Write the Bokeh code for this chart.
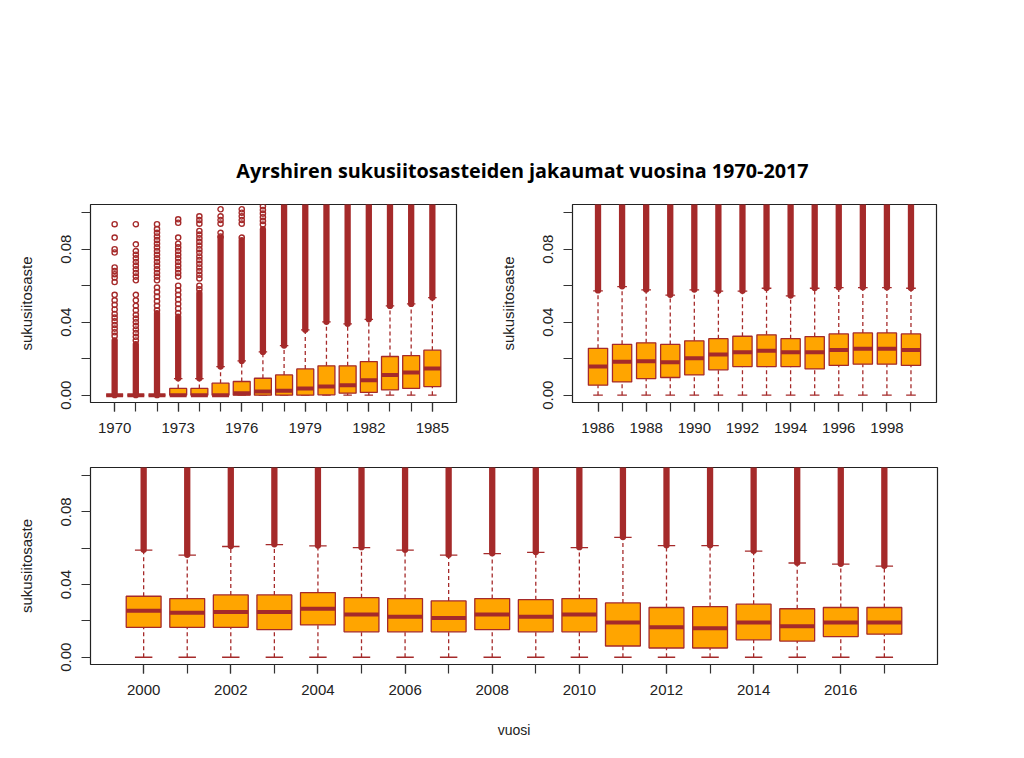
from bokeh.plotting import figure
from bokeh.models import Range1d, FixedTicker, Div, NumeralTickFormatter
from bokeh.layouts import column, row
from bokeh.embed import file_html
from bokeh.resources import INLINE

TITLE = "Ayrshiren sukusiitosasteiden jakaumat vuosina 1970-2017"
Y_LABEL = "sukusiitosaste"
X_LABEL = "vuosi"

# ---- panel 1: 1970-1985 ----
years1 = [1970, 1971, 1972, 1973, 1974, 1975, 1976, 1977, 1978, 1979, 1980, 1981, 1982, 1983, 1984, 1985]
q1_1 = [0.0, 0.0, 0.0, 0.0, 0.0, 0.0, 0.0, 0.0, 0.0, 0.0, 0.0002, 0.0011, 0.0015, 0.0029, 0.0037, 0.0047]
med_1 = [0.0, 0.0, 0.0, 0.0, 0.0, 0.0, 0.0011, 0.0020, 0.0024, 0.0037, 0.0047, 0.0055, 0.0082, 0.0111, 0.0124, 0.0146]
q3_1 = [0.0, 0.0, 0.0, 0.0037, 0.0037, 0.0066, 0.0075, 0.0093, 0.0111, 0.0144, 0.0161, 0.0161, 0.0184, 0.0212, 0.0217, 0.0247]
lo_1 = [0.0, 0.0, 0.0, 0.0, 0.0, 0.0, 0.0, 0.0, 0.0, 0.0, 0.0, 0.0, 0.0, 0.0, 0.0, 0.0]
hi_1 = [0.0, 0.0, 0.0, 0.0091, 0.0091, 0.0157, 0.0188, 0.0237, 0.0272, 0.0358, 0.0402, 0.0391, 0.0416, 0.0489, 0.0500, 0.0535]
# dense (overplotted) outlier ranges
dense_lo_1 = [0.0, 0.0, 0.0, 0.0093, 0.0093, 0.0157, 0.0188, 0.0237, 0.0272, 0.0358, 0.0402, 0.0391, 0.0416, 0.0489, 0.0500, 0.0535]
dense_hi_1 = [0.030, 0.028, 0.045, 0.043, 0.056, 0.0864, 0.085, 0.091, 0.105, 0.105, 0.105, 0.105, 0.105, 0.105, 0.105, 0.105]
ticks1 = [1970, 1973, 1976, 1979, 1982, 1985]

# separately visible outliers (panel 1)
out_year = ([1970] * 20 + [1971] * 23 + [1972] * 22 + [1973] * 20 + [1974] * 19
            + [1975] * 6 + [1976] * 6 + [1977] * 6)
out_val = [
    0.0937, 0.0864, 0.0800, 0.0782, 0.0700, 0.0681, 0.0663, 0.0645, 0.0620, 0.0550,
    0.0520, 0.0495, 0.0470, 0.0445, 0.0425, 0.0405, 0.0385, 0.0365, 0.0345, 0.0325,
    0.0937, 0.0827, 0.0790, 0.0770, 0.0750, 0.0730, 0.0710, 0.0690, 0.0670, 0.0650,
    0.0630, 0.0550, 0.0520, 0.0490, 0.0465, 0.0440, 0.0420, 0.0400, 0.0380, 0.0360,
    0.0340, 0.0320, 0.0300,
    0.0937, 0.0910, 0.0890, 0.0870, 0.0850, 0.0830, 0.0810, 0.0790, 0.0770, 0.0750,
    0.0730, 0.0710, 0.0690, 0.0670, 0.0650, 0.0630, 0.0590, 0.0565, 0.0540, 0.0515,
    0.0490, 0.0465,
    0.0964, 0.0945, 0.0864, 0.0830, 0.0810, 0.0790, 0.0770, 0.0750, 0.0730, 0.0710,
    0.0690, 0.0670, 0.0650, 0.0600, 0.0575, 0.0550, 0.0525, 0.0500, 0.0475, 0.0450,
    0.0980, 0.0960, 0.0940, 0.0900, 0.0880, 0.0860, 0.0840, 0.0820, 0.0800, 0.0780,
    0.0760, 0.0740, 0.0720, 0.0700, 0.0680, 0.0660, 0.0640, 0.0600, 0.0580,
    0.1019, 0.0980, 0.0960, 0.0940, 0.0890, 0.0870,
    0.1019, 0.1000, 0.0980, 0.0960, 0.0940, 0.0864,
    0.1035, 0.1015, 0.0995, 0.0975, 0.0955, 0.0935,
]

# ---- panel 2: 1986-1999 ----
years2 = [1986, 1987, 1988, 1989, 1990, 1991, 1992, 1993, 1994, 1995, 1996, 1997, 1998, 1999]
q1_2 = [0.0055, 0.0073, 0.0091, 0.0097, 0.0111, 0.0139, 0.0157, 0.0157, 0.0157, 0.0144, 0.0163, 0.0170, 0.0170, 0.0163]
med_2 = [0.0157, 0.0183, 0.0186, 0.0181, 0.0203, 0.0223, 0.0236, 0.0243, 0.0236, 0.0236, 0.0248, 0.0254, 0.0254, 0.0248]
q3_2 = [0.0257, 0.0279, 0.0287, 0.0278, 0.0298, 0.0310, 0.0323, 0.0331, 0.0310, 0.0321, 0.0336, 0.0341, 0.0341, 0.0336]
lo_2 = [0.0, 0.0, 0.0, 0.0, 0.0, 0.0, 0.0, 0.0, 0.0, 0.0, 0.0, 0.0, 0.0, 0.0]
hi_2 = [0.0572, 0.0595, 0.0577, 0.0548, 0.0577, 0.0570, 0.0570, 0.0586, 0.0544, 0.0586, 0.0590, 0.0590, 0.0590, 0.0586]
dense_lo_2 = [0.0574, 0.0597, 0.0579, 0.0550, 0.0579, 0.0572, 0.0572, 0.0588, 0.0546, 0.0588, 0.0592, 0.0592, 0.0592, 0.0588]
dense_hi_2 = [0.105, 0.105, 0.105, 0.105, 0.105, 0.105, 0.105, 0.105, 0.105, 0.105, 0.105, 0.105, 0.105, 0.105]
ticks2 = [1986, 1988, 1990, 1992, 1994, 1996, 1998]

# ---- panel 3: 2000-2017 ----
years3 = [2000, 2001, 2002, 2003, 2004, 2005, 2006, 2007, 2008, 2009, 2010, 2011, 2012, 2013, 2014, 2015, 2016, 2017]
q1_3 = [0.0165, 0.0165, 0.0165, 0.0152, 0.0178, 0.0140, 0.0140, 0.0140, 0.0152, 0.0140, 0.0140, 0.0062, 0.0051, 0.0051, 0.0096, 0.0089, 0.0114, 0.0127]
med_3 = [0.0256, 0.0245, 0.0249, 0.0249, 0.0267, 0.0236, 0.0223, 0.0216, 0.0236, 0.0223, 0.0236, 0.0192, 0.0165, 0.0160, 0.0192, 0.0171, 0.0192, 0.0192]
q3_3 = [0.0336, 0.0323, 0.0343, 0.0343, 0.0356, 0.0328, 0.0323, 0.0310, 0.0323, 0.0317, 0.0323, 0.0299, 0.0274, 0.0279, 0.0292, 0.0267, 0.0274, 0.0274]
lo_3 = [0.0, 0.0, 0.0, 0.0, 0.0, 0.0, 0.0, 0.0, 0.0, 0.0, 0.0, 0.0, 0.0, 0.0, 0.0, 0.0, 0.0, 0.0]
hi_3 = [0.0590, 0.0562, 0.0610, 0.0620, 0.0613, 0.0604, 0.0590, 0.0562, 0.0571, 0.0577, 0.0604, 0.0660, 0.0615, 0.0615, 0.0584, 0.0519, 0.0513, 0.0502]
dense_lo_3 = [0.0592, 0.0564, 0.0612, 0.0622, 0.0615, 0.0606, 0.0592, 0.0564, 0.0573, 0.0579, 0.0606, 0.0662, 0.0617, 0.0617, 0.0586, 0.0521, 0.0515, 0.0504]
dense_hi_3 = [0.105, 0.105, 0.105, 0.105, 0.105, 0.105, 0.105, 0.105, 0.105, 0.105, 0.105, 0.105, 0.105, 0.105, 0.105, 0.105, 0.105, 0.105]
ticks3 = [2000, 2002, 2004, 2006, 2008, 2010, 2012, 2014, 2016]

Y_MAJOR = [0.0, 0.04, 0.08]
Y_MINOR = [0.02, 0.06, 0.10]
Y_RANGE = (-0.0040, 0.1045)

BROWN = "#A52A2A"
ORANGE = "#FFA500"
AXIS = "#333333"
TXT = "#222222"
FONT = "Liberation Sans"
BOXW = 0.8
CAPW = 0.4


def panel(years, q1, med, q3, lo, hi, dlo, dhi, ticks, width, height, borders, xlabel=None,
          extra_x=None, extra_y=None):
    n = len(years)
    ext = 0.04 * n
    p = figure(width=width, height=height, output_backend="svg", toolbar_location=None,
               x_range=Range1d(years[0] - 0.5 - ext, years[-1] + 0.5 + ext),
               y_range=Range1d(*Y_RANGE),
               min_border_left=borders[0], min_border_right=borders[1],
               min_border_top=borders[2], min_border_bottom=borders[3])
    p.background_fill_color = "white"
    p.border_fill_color = "white"
    p.outline_line_color = "#222222"
    p.outline_line_width = 1.2
    p.xgrid.grid_line_color = None
    p.ygrid.grid_line_color = None

    x0 = [y - CAPW / 2 for y in years]
    x1 = [y + CAPW / 2 for y in years]
    # whiskers (dashed)
    p.segment(x0=years, x1=years, y0=q3, y1=hi, line_color=BROWN, line_width=1.3, line_dash="4 3")
    p.segment(x0=years, x1=years, y0=lo, y1=q1, line_color=BROWN, line_width=1.3, line_dash="4 3")
    # staples
    p.segment(x0=x0, x1=x1, y0=hi, y1=hi, line_color=BROWN, line_width=1.3)
    p.segment(x0=x0, x1=x1, y0=lo, y1=lo, line_color=BROWN, line_width=1.3)
    # boxes
    p.vbar(x=years, width=BOXW, bottom=q1, top=q3, fill_color=ORANGE, line_color=BROWN, line_width=1.3)
    # medians
    p.rect(x=years, y=med, width=BOXW, height=4, height_units="screen",
           fill_color=BROWN, line_color=None)
    # dense outliers
    p.segment(x0=years, x1=years, y0=dlo, y1=dhi, line_color=BROWN, line_width=6.3, line_cap="round")
    if extra_x is not None:
        p.scatter(x=extra_x, y=extra_y, marker="circle", size=5.2, fill_color=None,
                  line_color=BROWN, line_width=1.4)

    p.xaxis.ticker = FixedTicker(ticks=ticks, minor_ticks=years)
    p.xaxis.formatter = NumeralTickFormatter(format="0")
    p.yaxis.ticker = FixedTicker(ticks=Y_MAJOR, minor_ticks=Y_MINOR)
    p.yaxis.formatter = NumeralTickFormatter(format="0.00")
    for ax in (p.xaxis[0], p.yaxis[0]):
        ax.axis_line_color = None
        ax.major_tick_line_color = AXIS
        ax.minor_tick_line_color = AXIS
        ax.major_tick_line_width = 1.2
        ax.minor_tick_line_width = 1.2
        ax.major_tick_in = 0
        ax.major_tick_out = 9
        ax.minor_tick_in = 0
        ax.minor_tick_out = 9
        ax.major_label_text_font = FONT
        ax.major_label_text_color = TXT
        ax.axis_label_text_font = FONT
        ax.axis_label_text_font_style = "normal"
        ax.axis_label_text_color = TXT
    p.xaxis.major_label_text_font_size = "15px"
    p.xaxis.major_label_standoff = 11
    p.yaxis.major_label_text_font_size = "15px"
    p.yaxis.major_label_orientation = "vertical"
    p.yaxis.major_label_standoff = 10
    p.yaxis.axis_label = Y_LABEL
    p.yaxis.axis_label_text_font_size = "15px"
    p.yaxis.axis_label_standoff = 24
    if xlabel:
        p.xaxis.axis_label = xlabel
        p.xaxis.axis_label_text_font_size = "14px"
        p.xaxis.axis_label_standoff = 24
    return p


p1 = panel(years1, q1_1, med_1, q3_1, lo_1, hi_1, dense_lo_1, dense_hi_1, ticks1,
           490, 255, (90, 34, 14, 43), extra_x=out_year, extra_y=out_val)
p2 = panel(years2, q1_2, med_2, q3_2, lo_2, hi_2, dense_lo_2, dense_hi_2, ticks2,
           534, 255, (82, 88, 14, 43))
p3 = panel(years3, q1_3, med_3, q3_3, lo_3, hi_3, dense_lo_3, dense_hi_3, ticks3,
           1024, 313, (90, 87, 22, 94), xlabel=X_LABEL)

title = Div(
    text=('<div style="display:block;box-sizing:border-box;width:1045px;margin-top:157px;'
          'text-align:center;font-family:\'Open Sans\';font-weight:bold;font-size:19.8px;'
          'color:#000;white-space:nowrap">' + TITLE + '</div>'),
    width=1024, height=190, margin=0, styles={"width": "1024px", "overflow": "visible"})

layout = column(title, row(p1, p2), p3)
open("out.html", "w").write(file_html(layout, INLINE))
